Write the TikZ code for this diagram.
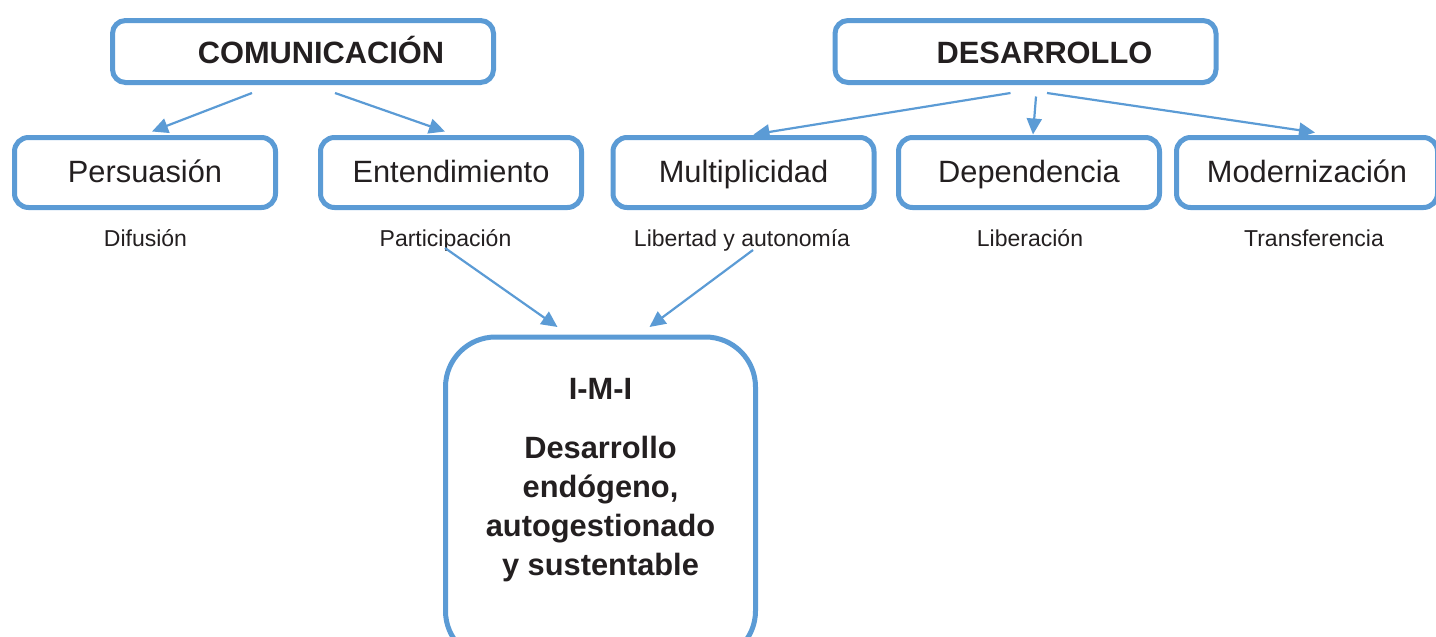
\documentclass[tikz,border=0pt]{standalone}
\usepackage{fontspec}
\setmainfont{Liberation Sans}
\usetikzlibrary{arrows.meta}
\definecolor{azul}{RGB}{91,155,213}
\definecolor{texto}{RGB}{35,31,32}

\begin{document}
\begin{tikzpicture}[x=0.5pt,y=-0.5pt,>={Triangle[length=8pt,width=7.5pt]},
  titulo/.style={draw=azul,line width=2.5pt,rounded corners=6.5pt,outer sep=0pt,minimum width=190.5pt,minimum height=31pt,text height=11.8pt,text depth=0pt,font=\fontsize{15.4pt}{18pt}\selectfont\bfseries,text=texto},
  caja/.style={draw=azul,line width=2.5pt,rounded corners=7pt,outer sep=0pt,minimum width=130.5pt,minimum height=35pt,text height=11.5pt,text depth=2pt,font=\fontsize{15.4pt}{18pt}\selectfont,text=texto},
  nota/.style={anchor=base,inner sep=0pt,font=\fontsize{11.5pt}{14pt}\selectfont,text=texto},
  flecha/.style={->,draw=azul,fill=azul,line width=1.1pt}]
            \useasboundingbox (0,0) rectangle (1436,637);
            \clip (0,0) rectangle (1436,637);
            % conceptos principales
            \node[titulo] (com) at (303,51.5) {\hspace*{18pt}COMUNICACIÓN};
            \node[titulo] (des) at (1025.5,51.5) {\hspace*{19pt}DESARROLLO};
            % conceptos derivados
            \foreach \n/\x/\t in {pers/145/Persuasión,ent/451/Entendimiento,mul/743.5/Multiplicidad,dep/1029/Dependencia,mod/1307/Modernización}
            {
                \node[caja] (\n) at (\x,172.5) {\t};
            }
            \foreach \n/\x/\t in {dif/145.5/Difusión,par/445.5/Participación,lib/742/Libertad y autonomía,libr/1030/Liberación,tra/1314/Transferencia}
            {
                \node[nota] (\n) at (\x,246) {\t};
            }
            % modelo
            \node[draw=azul,line width=2.5pt,rounded corners=25pt,outer sep=0pt,minimum width=155pt,minimum height=162pt,align=center,text depth=21.75pt,font=\fontsize{15.4pt}{19.5pt}\selectfont\bfseries,text=texto] (imi) at (600.5,499) {I-M-I\\[10pt]Desarrollo\\endógeno,\\autogestionado\\y sustentable};
            \draw[flecha] ([shift={(-51,10.5)}]com.south) -- ([shift={(7,-6)}]pers.north);
            \draw[flecha] ([shift={(32,10.5)}]com.south) -- ([shift={(-6,-6)}]ent.north);
            \draw[flecha] ([shift={(-15,10.5)}]des.south) -- ([shift={(10,-3)}]mul.north);
            \draw[flecha] ([shift={(10.5,14)}]des.south) -- ([shift={(4,-3)}]dep.north);
            \draw[flecha] ([shift={(21.5,10.5)}]des.south) -- ([shift={(8,-5)}]mod.north);
            \draw[flecha] ([shift={(-0.5,2)}]par.base) -- ([shift={(-43,-10)}]imi.north);
            \draw[flecha] ([shift={(11,4)}]lib.base) -- ([shift={(49,-10)}]imi.north);
        \end{tikzpicture}
\end{document}
